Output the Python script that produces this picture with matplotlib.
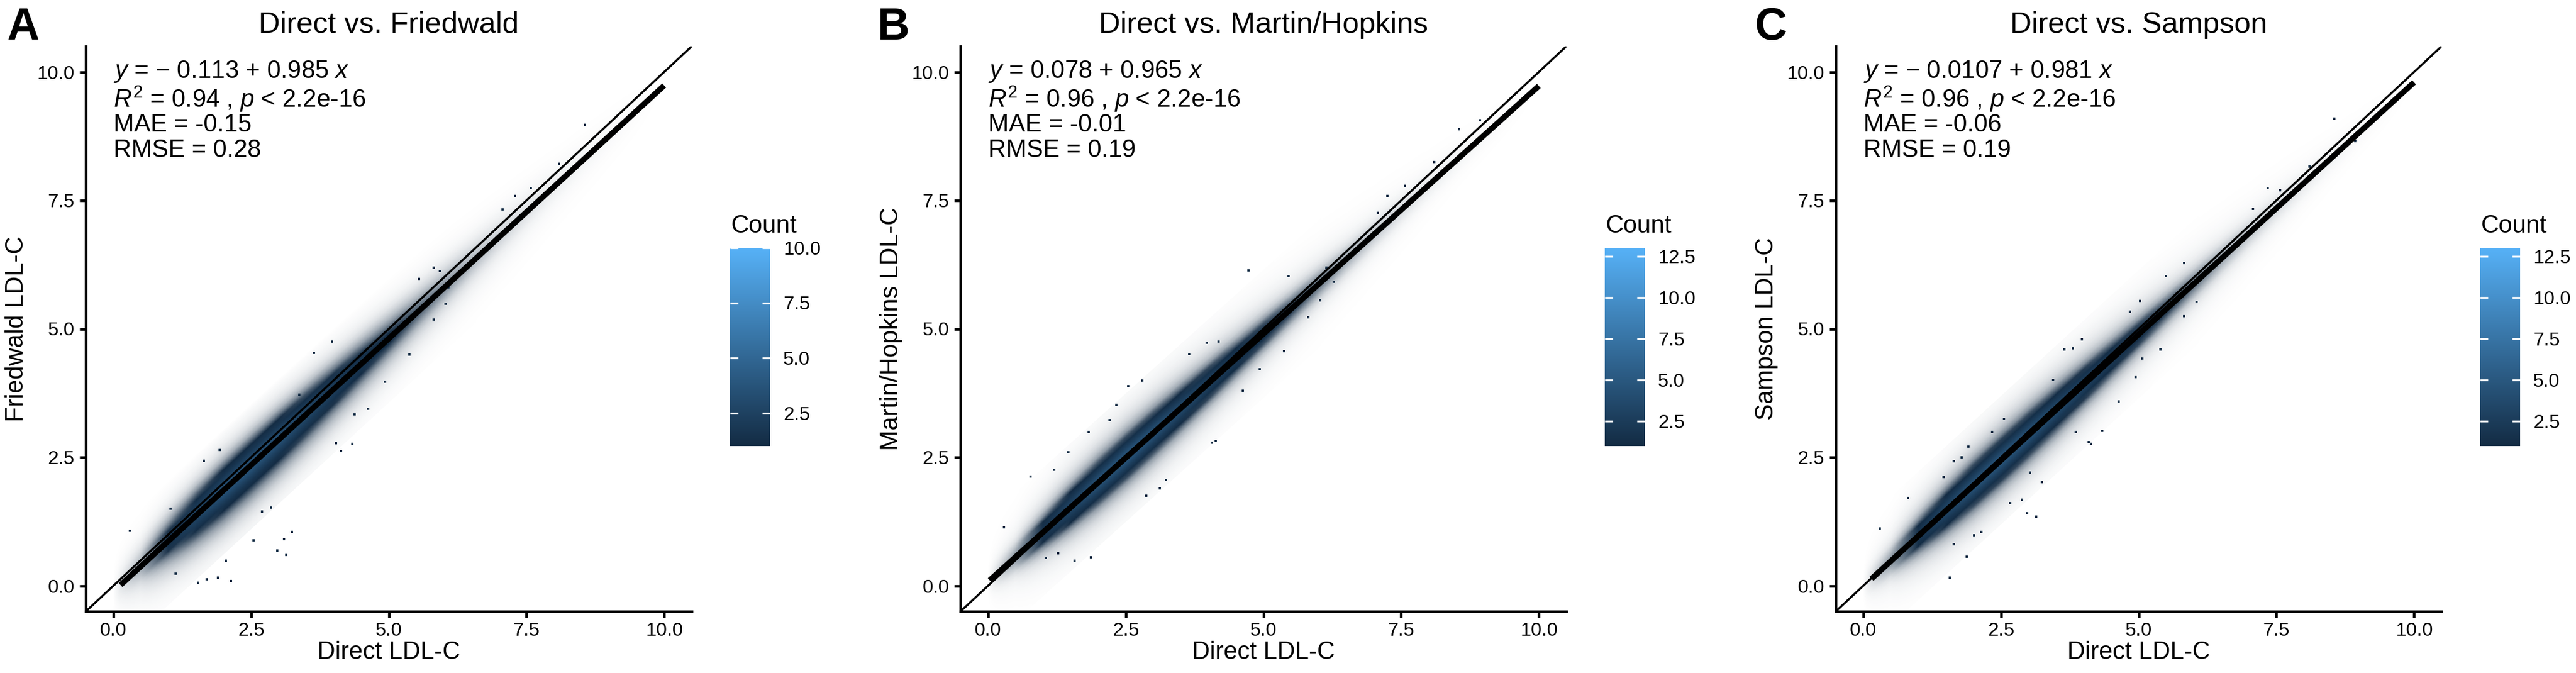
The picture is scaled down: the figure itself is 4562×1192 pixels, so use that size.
import numpy as np
import matplotlib
matplotlib.use('Agg')
import matplotlib.pyplot as plt
from matplotlib.colors import LinearSegmentedColormap, Normalize
from matplotlib.cm import ScalarMappable
from matplotlib.transforms import Affine2D

plt.rcParams['font.family'] = ['Liberation Sans', 'DejaVu Sans']
plt.rcParams['mathtext.fontset'] = 'custom'
plt.rcParams['mathtext.rm'] = 'Liberation Sans'
plt.rcParams['mathtext.it'] = 'Liberation Sans:italic'
plt.rcParams['mathtext.bf'] = 'Liberation Sans:bold'

# panel text
letters = ['A', 'B', 'C']
titles = ['Direct vs. Friedwald', 'Direct vs. Martin/Hopkins', 'Direct vs. Sampson']
y_labels = ['Friedwald LDL-C', 'Martin/Hopkins LDL-C', 'Sampson LDL-C']
x_label = 'Direct LDL-C'

# regression results shown in the panels
intercepts = [-0.113, 0.078, -0.0107]
slopes = [0.985, 0.965, 0.981]
r2 = [0.94, 0.96, 0.96]
mae = [-0.15, -0.01, -0.06]
rmse = [0.28, 0.19, 0.19]
reg_x_start = [0.13, 0.03, 0.15]
reg_x_end = [10.0, 10.0, 10.0]

# colour scale (Count)
count_max = [10, 13, 13]
cbar_ticks = [[2.5, 5.0, 7.5, 10.0],
              [2.5, 5.0, 7.5, 10.0, 12.5],
              [2.5, 5.0, 7.5, 10.0, 12.5]]

axis_ticks = [0, 2.5, 5, 7.5, 10]
axis_tick_labels = ['0.0', '2.5', '5.0', '7.5', '10.0']

# binned point cloud: typical count per cell along
# the fit line (band_x) and relative fall-off across it (band_r = residual)
band_x = [0.0, 0.5, 1.0, 1.5, 2.0, 2.5, 3.0, 3.5, 4.0, 4.5, 5.0,
          5.5, 6.0, 6.5, 7.0, 7.5, 8.0, 8.5, 9.0, 9.5, 10.0]
band_r = [-1.2, -1.1, -1.0, -0.9, -0.8, -0.7, -0.6, -0.5, -0.4, -0.3, -0.2, -0.1, 0.0,
          0.1, 0.2, 0.3, 0.4, 0.5, 0.6, 0.7, 0.8, 0.9, 1.0, 1.1, 1.2]

peak_A = [0.0, 0.4, 1.5, 2.8, 3.8, 4.0, 3.7, 3.0, 2.3, 1.7, 1.2,
          0.8, 0.55, 0.35, 0.22, 0.14, 0.08, 0.05, 0.03, 0.015, 0.0]
peak_B = [0.0, 0.5, 1.8, 3.4, 4.6, 5.0, 4.6, 3.8, 2.9, 2.1, 1.5,
          1.0, 0.68, 0.42, 0.26, 0.16, 0.09, 0.05, 0.03, 0.015, 0.0]
peak_C = [0.0, 0.5, 1.9, 3.5, 4.7, 5.0, 4.7, 3.9, 3.0, 2.2, 1.55,
          1.05, 0.7, 0.44, 0.27, 0.17, 0.1, 0.055, 0.03, 0.015, 0.0]

shape_A = [0.012, 0.018, 0.027, 0.04, 0.06, 0.09, 0.13, 0.19, 0.28, 0.42, 0.64, 0.88, 1.0,
           0.88, 0.64, 0.42, 0.27, 0.17, 0.1, 0.06, 0.036, 0.022, 0.013, 0.007, 0.0]
shape_B = [0.006, 0.009, 0.013, 0.019, 0.028, 0.042, 0.065, 0.1, 0.17, 0.3, 0.55, 0.85, 1.0,
           0.85, 0.55, 0.3, 0.17, 0.1, 0.065, 0.042, 0.028, 0.019, 0.013, 0.009, 0.006]
shape_C = [0.006, 0.009, 0.014, 0.021, 0.031, 0.046, 0.07, 0.11, 0.18, 0.31, 0.56, 0.85, 1.0,
           0.85, 0.56, 0.31, 0.18, 0.11, 0.07, 0.046, 0.031, 0.021, 0.014, 0.009, 0.006]

# isolated points away from the dense band
out_A_x = [0.30, 1.04, 1.13, 1.54, 1.69, 1.90, 2.04, 2.13, 2.54, 2.98, 3.14, 3.10, 3.24, 2.70,
           2.86, 1.93, 1.64, 3.38, 3.64, 3.97, 4.13, 4.04, 4.34, 4.63, 4.38, 4.93, 5.37, 5.82,
           6.03, 5.81, 5.93, 5.55, 6.08, 7.07, 7.29, 7.58, 8.09, 8.56]
out_A_y = [1.07, 1.50, 0.24, 0.06, 0.13, 0.16, 0.49, 0.09, 0.89, 0.69, 0.60, 0.91, 1.05, 1.45,
           1.52, 2.64, 2.43, 3.72, 4.53, 4.75, 2.62, 2.77, 2.76, 3.44, 3.34, 3.97, 4.50, 5.18,
           5.49, 6.19, 6.13, 5.97, 5.81, 7.32, 7.59, 7.74, 8.21, 8.97]
out_B_x = [0.29, 0.77, 1.05, 1.27, 1.57, 1.87, 1.46, 1.20, 1.83, 2.21, 2.33, 2.54, 2.80, 2.87,
           3.12, 3.23, 3.65, 3.97, 4.18, 4.06, 4.13, 4.63, 4.93, 5.37, 5.82, 4.73, 5.46, 6.03,
           6.28, 6.14, 7.08, 7.25, 7.57, 8.10, 8.55, 8.93]
out_B_y = [1.14, 2.13, 0.54, 0.63, 0.49, 0.56, 2.60, 2.26, 3.00, 3.22, 3.52, 3.88, 3.99, 1.75,
           1.90, 2.06, 4.51, 4.73, 4.75, 2.79, 2.82, 3.80, 4.21, 4.57, 5.22, 6.14, 6.03, 5.56,
           5.92, 6.19, 7.26, 7.59, 7.79, 8.25, 8.88, 9.06]
out_C_x = [0.30, 0.81, 1.57, 1.64, 1.88, 2.01, 2.14, 1.46, 1.64, 1.79, 1.91, 2.34, 2.56, 2.67,
           2.88, 2.98, 3.14, 3.03, 3.24, 3.45, 3.65, 3.81, 3.97, 3.86, 4.09, 4.13, 4.34, 4.64,
           4.94, 5.07, 5.39, 5.83, 6.05, 5.03, 4.84, 5.50, 5.83, 7.08, 7.34, 7.57, 8.10, 8.55, 8.93]
out_C_y = [1.11, 1.71, 0.16, 0.81, 0.57, 0.98, 1.05, 2.11, 2.42, 2.50, 2.71, 2.99, 3.25, 1.61,
           1.68, 1.41, 1.35, 2.20, 2.02, 4.01, 4.60, 4.62, 4.80, 3.00, 2.80, 2.76, 3.02, 3.59,
           4.06, 4.42, 4.60, 5.25, 5.52, 5.54, 5.34, 6.03, 6.28, 7.34, 7.74, 7.70, 8.16, 9.09, 8.65]

peaks = [peak_A, peak_B, peak_C]
shapes = [shape_A, shape_B, shape_C]
outs = [(out_A_x, out_A_y), (out_B_x, out_B_y), (out_C_x, out_C_y)]

cmap = LinearSegmentedColormap.from_list('gg_count', ['#132B43', '#56B1F7'])

W, H = 4562, 1192
fig = plt.figure(figsize=(W / 300, H / 300), dpi=300)

axes_left = [152, 1701, 3251]
letter_x = [12, 1554, 3108]
ax_w, ax_top, ax_bot = 1073, 82, 1083

for i in range(3):
    L = axes_left[i]
    ax = fig.add_axes([L / W, (H - ax_bot) / H, ax_w / W, (ax_bot - ax_top) / H])
    norm = Normalize(1, count_max[i])

    # density band, drawn in (x, residual) space and sheared onto the fit line
    c = np.outer(shapes[i], peaks[i])
    rgba = cmap(norm(np.clip(c, 1, None)))
    rgba[..., 3] = np.clip(c, 0, 1)
    dx = band_x[1] - band_x[0]
    dr = band_r[1] - band_r[0]
    shear = Affine2D().from_values(1, slopes[i], 0, 1, 0, intercepts[i])
    ax.imshow(rgba, origin='lower', interpolation='bilinear', aspect='auto',
              extent=[band_x[0] - dx / 2, band_x[-1] + dx / 2,
                      band_r[0] - dr / 2, band_r[-1] + dr / 2],
              transform=shear + ax.transData, zorder=1)

    ox, oy = outs[i]
    ax.scatter(ox, oy, s=1.0, marker='s', color='#132B43', linewidths=0, zorder=2)

    # fitted line and identity line
    xs = np.array([reg_x_start[i], reg_x_end[i]])
    ax.plot(xs, intercepts[i] + slopes[i] * xs, color='black', lw=2.4,
            solid_capstyle='butt', zorder=3)
    ax.axline((0, 0), slope=1, color='black', lw=0.9, zorder=3)

    ax.set_xlim(-0.5, 10.5)
    ax.set_ylim(-0.5, 10.5)
    ax.set_xticks(axis_ticks)
    ax.set_xticklabels(axis_tick_labels)
    ax.set_yticks(axis_ticks)
    ax.set_yticklabels(axis_tick_labels)
    for s in ['top', 'right']:
        ax.spines[s].set_visible(False)
    for s in ['left', 'bottom']:
        ax.spines[s].set_linewidth(1.1)
        ax.spines[s].set_capstyle('projecting')
    ax.tick_params(axis='both', length=2.64, width=1.1, labelsize=8.2, colors='black')
    ax.tick_params(axis='x', pad=1.8)
    ax.tick_params(axis='y', pad=2.2)
    ax.set_xlabel(x_label, fontsize=10.5, labelpad=0.7)
    ax.set_ylabel(y_labels[i], fontsize=10.5, labelpad=3.6)
    ax.set_title(titles[i], fontsize=12.6, pad=5.8)

    # regression annotation
    b0 = intercepts[i]
    sign = '\u2212 ' if b0 < 0 else ''
    lines = [f'$y$ = {sign}{abs(b0):g} + {slopes[i]:g} $x$',
             f'$R^2$ = {r2[i]:.2f} , $p$ < 2.2e-16',
             f'MAE = {mae[i]:.2f}',
             f'RMSE = {rmse[i]:.2f}']
    for txt, yy in zip(lines, [9.885, 9.31, 8.84, 8.35]):
        ax.text(0.0, yy, txt, fontsize=10.5, ha='left', va='baseline', zorder=4)

    fig.text(letter_x[i] / W, 1 - 70 / H, letters[i], fontsize=19,
             fontweight='bold', ha='left', va='baseline')

    # colour bar
    R = L + ax_w
    cax = fig.add_axes([(R + 68) / W, (H - 790) / H, 71 / W, 351 / H])
    cb = fig.colorbar(ScalarMappable(norm=norm, cmap=cmap), cax=cax)
    cb.outline.set_visible(False)
    cb.set_ticks(cbar_ticks[i])
    cb.set_ticklabels([f'{t:.1f}' for t in cbar_ticks[i]])
    cax.tick_params(direction='in', color='white', length=3.4, width=0.8,
                    labelsize=8.2, pad=5.5, left=True, right=True,
                    labelleft=False, labelright=True)
    fig.text((R + 70) / W, 1 - 412 / H, 'Count', fontsize=10.5,
             ha='left', va='baseline')

fig.savefig('out.png', dpi=300, facecolor='white')
